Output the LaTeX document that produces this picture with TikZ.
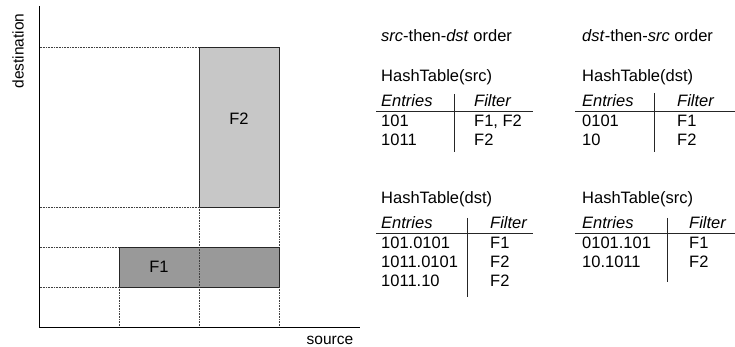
\documentclass[tikz,border=0pt]{standalone}
\usepackage{fontspec}
\setmainfont{Liberation Sans}
\begin{document}
\begin{tikzpicture}[x=1pt,y=-1pt,
  lbl/.style={font=\fontsize{15.5}{18}\selectfont, inner sep=0pt},
  big/.style={font=\fontsize{16.5}{19}\selectfont, inner sep=0pt},
  cell/.style={big, anchor=base west},
  axis/.style={line width=0.9pt, black},
  grid/.style={line width=0.6pt, black!75, dash pattern=on 0.8pt off 0.8pt},
  flow/.style={line width=0.9pt, draw=black!85},
  rule/.style={line width=0.9pt, black!85}]
\useasboundingbox (0,0) rectangle (735,347);

% ---- filter rectangles in the source/destination plane ----
\fill[black!22] (199.5,47) rectangle (279.5,207);
\draw[flow] (199.5,47) rectangle (279.5,207);
\fill[black!40] (119.5,247) rectangle (279.5,287);
\draw[flow] (119.5,247) rectangle (279.5,287);

% projections onto the axes
\draw[grid] (39.5,47) -- (199.5,47);
\draw[grid] (39.5,207) -- (199.5,207);
\draw[grid] (39.5,247) -- (119.5,247);
\draw[grid] (39.5,287) -- (119.5,287);
\draw[grid] (119.5,287) -- (119.5,327.5);
\draw[grid] (199.5,207) -- (199.5,327.5);
\draw[grid] (279.5,207) -- (279.5,247);
\draw[grid] (279.5,287) -- (279.5,327.5);

% axes
\draw[axis] (39.5,6) -- (39.5,327.5) -- (360,327.5);
\node[lbl, rotate=90] (ydst) at (18,51) {destination};
\node[lbl] (xsrc) at (330,340) {source};

\node[big] (f2) at (239,119) {F2};
\node[big] (f1) at (159,267) {F1};

% ---- src-then-dst order ----
\node[cell] (ordA) at (381,42) {\textit{src}-then-\textit{dst} order};
\node[cell] (htA1) at (381,82) {HashTable(src)};
\node[cell] (hA1e) at (381,107) {\textit{Entries}};
\node[cell] (hA1f) at (474,107) {\textit{Filter}};
\draw[rule] (376,111.5) -- (533,111.5);
\draw[rule] (454,94) -- (454,152);
\node[cell] (a1r1e) at (381,127) {101};
\node[cell] (a1r1f) at (474,127) {F1, F2};
\node[cell] (a1r2e) at (381,146) {1011};
\node[cell] (a1r2f) at (474,146) {F2};

\node[cell] (htA2) at (381,203.5) {HashTable(dst)};
\node[cell] (hA2e) at (381,228.5) {\textit{Entries}};
\node[cell] (hA2f) at (490,228.5) {\textit{Filter}};
\draw[rule] (376,233) -- (533,233);
\draw[rule] (467,218) -- (467,297);
\node[cell] (a2r1e) at (381,248.5) {101.0101};
\node[cell] (a2r1f) at (490,248.5) {F1};
\node[cell] (a2r2e) at (381,267.5) {1011.0101};
\node[cell] (a2r2f) at (490,267.5) {F2};
\node[cell] (a2r3e) at (381,286.5) {1011.10};
\node[cell] (a2r3f) at (490,286.5) {F2};

% ---- dst-then-src order ----
\node[cell] (ordB) at (582,42) {\textit{dst}-then-\textit{src} order};
\node[cell] (htB1) at (582,82) {HashTable(dst)};
\node[cell] (hB1e) at (582,107) {\textit{Entries}};
\node[cell] (hB1f) at (677,107) {\textit{Filter}};
\draw[rule] (575,111.5) -- (735,111.5);
\draw[rule] (654,93) -- (654,152);
\node[cell] (b1r1e) at (582,127) {0101};
\node[cell] (b1r1f) at (677,127) {F1};
\node[cell] (b1r2e) at (582,146) {10};
\node[cell] (b1r2f) at (677,146) {F2};

\node[cell] (htB2) at (582,203.5) {HashTable(src)};
\node[cell] (hB2e) at (582,228.5) {\textit{Entries}};
\node[cell] (hB2f) at (689,228.5) {\textit{Filter}};
\draw[rule] (575,233) -- (735,233);
\draw[rule] (667,218) -- (667,282);
\node[cell] (b2r1e) at (582,248.5) {0101.101};
\node[cell] (b2r1f) at (689,248.5) {F1};
\node[cell] (b2r2e) at (582,267.5) {10.1011};
\node[cell] (b2r2f) at (689,267.5) {F2};
\end{tikzpicture}
\end{document}
